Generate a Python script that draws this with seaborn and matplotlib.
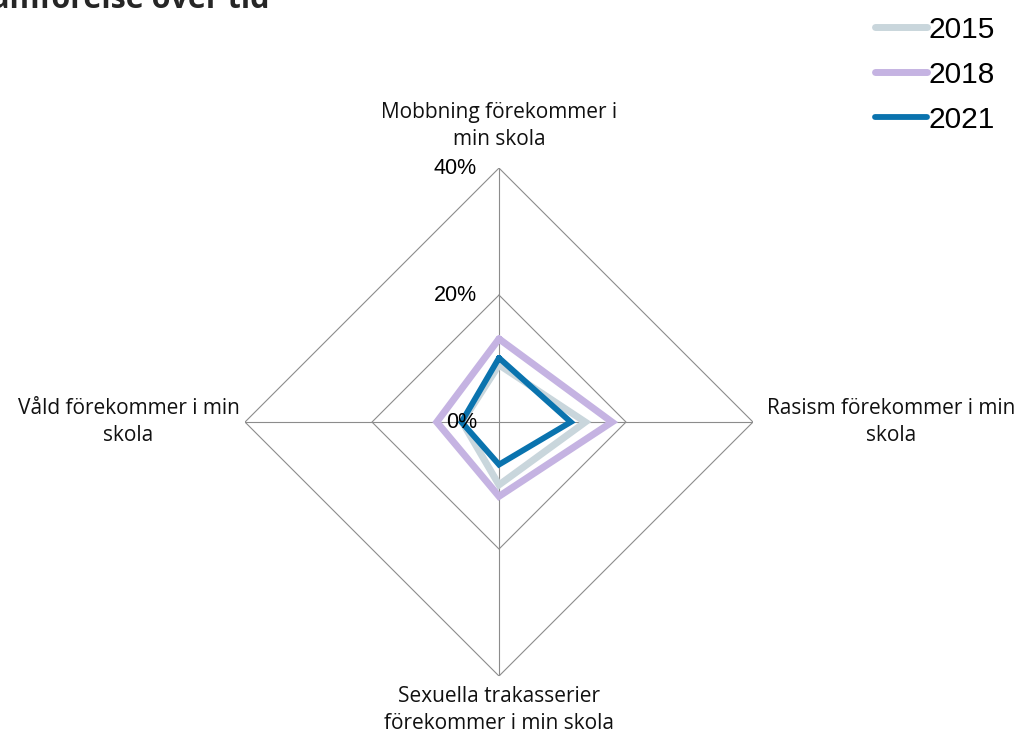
import numpy as np
import pandas as pd
import matplotlib
matplotlib.use("Agg")
import matplotlib.pyplot as plt
import seaborn as sns
from matplotlib.lines import Line2D

# ---- data ----
categories = [
    "Mobbning förekommer i\nmin skola",
    "Rasism förekommer i min\nskola",
    "Sexuella trakasserier\nförekommer i min skola",
    "Våld förekommer i min\nskola",
]
years = ["2015", "2018", "2021"]
values_2015 = [9.0, 13.6, 9.9, 5.8]
values_2018 = [13.1, 17.8, 11.7, 9.8]
values_2021 = [10.1, 11.3, 6.7, 5.9]
r_ticks = [0, 20, 40]
r_tick_labels = ["0%", "20%", "40%"]
title = "Jämförelse över tid"

colors = {"2015": "#C9D6DC", "2018": "#C5B3E2", "2021": "#0A73AE"}
widths = {"2015": 5.0, "2018": 5.0, "2021": 4.2}

sns.set_theme(style="white")
plt.rcParams["font.family"] = ["Open Sans", "DejaVu Sans"]

n = len(categories)
angles = np.arange(n) * 2 * np.pi / n

rows = []
for yr, vals in zip(years, [values_2015, values_2018, values_2021]):
    for i, (a, v) in enumerate(zip(angles, vals)):
        rows.append({"year": yr, "theta": a, "r": v, "order": i})
    rows.append({"year": yr, "theta": angles[0] + 2 * np.pi, "r": vals[0], "order": n})
df = pd.DataFrame(rows)

fig = plt.figure(figsize=(10.17, 7.42), dpi=100)
ax = fig.add_axes([0.2409, 0.0889, 0.4995, 0.6846], projection="polar")
ax.set_theta_offset(np.pi / 2)
ax.set_theta_direction(-1)
ax.set_ylim(0, r_ticks[-1])
ax.grid(False)
ax.spines["polar"].set_visible(False)
ax.set_xticks([])
ax.set_yticks([])
ax.patch.set_alpha(0)

grid_color = "#8C8C8C"
closed = np.append(angles, angles[0] + 2 * np.pi)
for rt in r_ticks[1:]:
    ax.plot(closed, [rt] * len(closed), color=grid_color, lw=0.8, zorder=1)
for a in angles:
    ax.plot([a, a], [0, r_ticks[-1]], color=grid_color, lw=0.8, zorder=1)

for yr in years:
    sub = df[df["year"] == yr]
    sns.lineplot(data=sub, x="theta", y="r", sort=False, ax=ax,
                 color=colors[yr], lw=widths[yr], zorder=3,
                 solid_joinstyle="miter", legend=False)
ax.set_xlabel("")
ax.set_ylabel("")

for rt, lab in zip(r_ticks, r_tick_labels):
    ax.annotate(lab, xy=(0, rt), xytext=(-16, 0), textcoords="offset points",
                ha="right", va="center", fontsize=15.5,
                family=["Liberation Sans", "DejaVu Sans"], color="#000000", zorder=4)

label_offsets = [(0, 13, "center", "bottom"), (10, 0, "left", "center"),
                 (0, -7, "center", "top"), (-4, 0, "right", "center")]
for a, cat, (dx, dy, ha, va) in zip(angles, categories, label_offsets):
    ax.annotate(cat, xy=(a, r_ticks[-1]), xytext=(dx, dy), textcoords="offset points",
                ha=ha, va=va, fontsize=15, multialignment="center",
                linespacing=1.4, color="#111111", annotation_clip=False)

handles = [Line2D([0], [0], color=colors[y], lw=widths[y], solid_capstyle="round") for y in years]
leg = fig.legend(handles, years, loc="upper right", bbox_to_anchor=(1.005, 1.015),
                 frameon=False, handlelength=1.75, handletextpad=0.05,
                 labelspacing=0.57, prop={"family": ["Liberation Sans"], "size": 21.5})
for t in leg.get_texts():
    t.set_color("#000000")

fig.text(-19 / 1017, 1 - 8 / 742, title, ha="left", va="baseline",
         fontsize=22, fontweight="bold", color="#262626")

fig.savefig("out.png", dpi=100)
